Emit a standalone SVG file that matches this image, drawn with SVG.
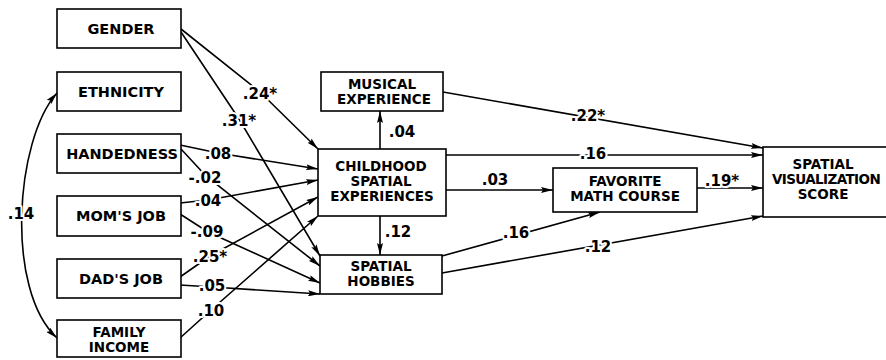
<svg xmlns="http://www.w3.org/2000/svg" width="886" height="360" viewBox="0 0 886 360">
<style>
.box{fill:#fff;stroke:#000;stroke-width:1.6}
.t{font-family:"DejaVu Sans","Liberation Sans",sans-serif;font-weight:bold;font-size:14.5px;text-anchor:middle;fill:#000}
.m{font-family:"DejaVu Sans","Liberation Sans",sans-serif;font-weight:bold;font-size:13.5px;text-anchor:middle;fill:#000}
.c{fill:none;stroke:#000;stroke-width:1.6}
.l{font-family:"DejaVu Sans","Liberation Sans",sans-serif;font-weight:bold;font-size:15px;text-anchor:middle;fill:#000;stroke:#fff;stroke-width:4px;paint-order:stroke;stroke-linejoin:round}
</style>
<defs>
<marker id="ar" viewBox="0 0 12 6" refX="12" refY="3" markerWidth="12" markerHeight="6" markerUnits="userSpaceOnUse" orient="auto-start-reverse">
<path d="M0,0 L12,3 L0,6 L2,3 z" fill="#000"/>
</marker>
</defs>
<g id="connectors">
<path class="c" d="M57,93 C15,140 5,290 57,338" marker-start="url(#ar)" marker-end="url(#ar)"/>
<path class="c" d="M181,29 L260,92 L318,149" marker-end="url(#ar)"/>
<path class="c" d="M181,32 L239,119 L320,256" marker-end="url(#ar)"/>
<path class="c" d="M180,145 L218,153 L318,169" marker-end="url(#ar)"/>
<path class="c" d="M181,149 L206,176 L320,266" marker-end="url(#ar)"/>
<path class="c" d="M180,203 L208,200 L318,180" marker-end="url(#ar)"/>
<path class="c" d="M180,214 L208,232 L320,283" marker-end="url(#ar)"/>
<path class="c" d="M180,277 L210,256 L318,197" marker-end="url(#ar)"/>
<path class="c" d="M180,285 L212,287 L320,294" marker-end="url(#ar)"/>
<path class="c" d="M180,338 L211,310 L318,216" marker-end="url(#ar)"/>
<path class="c" d="M380,149 L380,111" marker-end="url(#ar)"/>
<path class="c" d="M380,216 L380,255" marker-end="url(#ar)"/>
<path class="c" d="M443,92 L763,148" marker-end="url(#ar)"/>
<path class="c" d="M446,155 L763,155" marker-end="url(#ar)"/>
<path class="c" d="M446,190 L553,190" marker-end="url(#ar)"/>
<path class="c" d="M697,188 L763,188" marker-end="url(#ar)"/>
<path class="c" d="M442,256 L600,212" marker-end="url(#ar)"/>
<path class="c" d="M442,273 L763,216" marker-end="url(#ar)"/>
</g>
<g id="labels">
<text class="l" x="21" y="219">.14</text>
<text class="l" x="260" y="99">.24*</text>
<text class="l" x="239" y="126">.31*</text>
<text class="l" x="218" y="159">.08</text>
<text class="l" x="205" y="183">-.02</text>
<text class="l" x="208" y="206">.04</text>
<text class="l" x="207" y="237">-.09</text>
<text class="l" x="210" y="262">.25*</text>
<text class="l" x="212" y="291">.05</text>
<text class="l" x="211" y="316">.10</text>
<text class="l" x="402" y="137">.04</text>
<text class="l" x="398" y="237">.12</text>
<text class="l" x="588" y="121">.22*</text>
<text class="l" x="593" y="159">.16</text>
<text class="l" x="495" y="185">.03</text>
<text class="l" x="722" y="186">.19*</text>
<text class="l" x="516" y="238">.16</text>
<text class="l" x="598" y="252">.12</text>
</g>
<g id="gender"><rect class="box" x="57" y="9" width="124" height="39"/><text class="t" x="121" y="34">GENDER</text></g>
<g id="ethnicity"><rect class="box" x="57" y="72" width="124" height="39"/><text class="t" x="121" y="97">ETHNICITY</text></g>
<g id="handedness"><rect class="box" x="57" y="134" width="124" height="39"/><text class="t" x="122" y="159">HANDEDNESS</text></g>
<g id="momsjob"><rect class="box" x="57" y="196" width="124" height="40"/><text class="t" x="121" y="221">MOM'S JOB</text></g>
<g id="dadsjob"><rect class="box" x="57" y="259" width="124" height="39"/><text class="t" x="121" y="284">DAD'S JOB</text></g>
<g id="familyincome"><rect class="box" x="57" y="320" width="124" height="37"/><text class="m" x="119" y="337">FAMILY</text><text class="m" x="119" y="352">INCOME</text></g>
<g id="musical"><rect class="box" x="321" y="72" width="122" height="39"/><text class="m" x="382" y="89">MUSICAL</text><text class="m" x="384" y="104">EXPERIENCE</text></g>
<g id="childhood"><rect class="box" x="318" y="149" width="128" height="67"/><text class="m" x="381" y="171">CHILDHOOD</text><text class="m" x="381" y="186">SPATIAL</text><text class="m" x="382" y="201">EXPERIENCES</text></g>
<g id="hobbies"><rect class="box" x="320" y="255" width="122" height="39"/><text class="m" x="381" y="271">SPATIAL</text><text class="m" x="381" y="286">HOBBIES</text></g>
<g id="favorite"><rect class="box" x="553" y="168" width="144" height="44"/><text class="m" x="625" y="186">FAVORITE</text><text class="m" x="625" y="201">MATH COURSE</text></g>
<g id="score"><rect class="box" x="763" y="147" width="130" height="70"/><text class="m" x="823" y="169">SPATIAL</text><text class="m" x="826" y="184" style="letter-spacing:-0.6px">VISUALIZATION</text><text class="m" x="823" y="199">SCORE</text></g>
</svg>
